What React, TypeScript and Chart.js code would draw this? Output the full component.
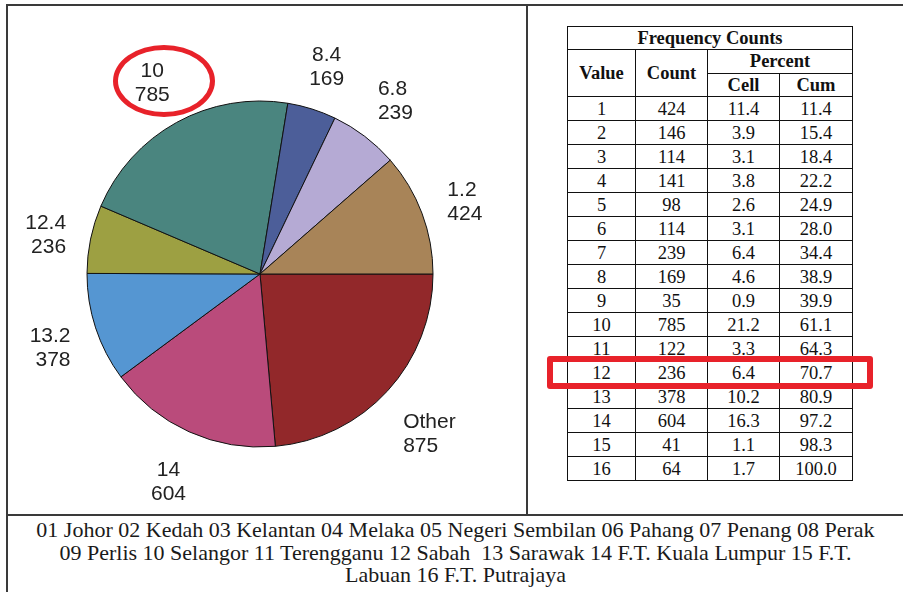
import React, { useEffect, useRef } from "react";
import { Chart, registerables } from "chart.js";

Chart.register(...registerables);

// Pie slices (clockwise from 3 o'clock)
const SLICE_LABELS = ["Other", "14", "13.2", "12.4", "10", "8.4", "6.8", "1.2"];
const SLICE_COUNTS = [875, 604, 378, 236, 785, 169, 239, 424];
const SLICE_COLORS = ["#92282A", "#BA4B7B", "#5596D2", "#9DA042", "#4A857F", "#4C5E99", "#B5AAD4", "#A88458"];

// Frequency table
const TABLE_VALUES = ["1", "2", "3", "4", "5", "6", "7", "8", "9", "10", "11", "12", "13", "14", "15", "16"];
const TABLE_COUNTS = ["424", "146", "114", "141", "98", "114", "239", "169", "35", "785", "122", "236", "378", "604", "41", "64"];
const TABLE_CELL = ["11.4", "3.9", "3.1", "3.8", "2.6", "3.1", "6.4", "4.6", "0.9", "21.2", "3.3", "6.4", "10.2", "16.3", "1.1", "1.7"];
const TABLE_CUM = ["11.4", "15.4", "18.4", "22.2", "24.9", "28.0", "34.4", "38.9", "39.9", "61.1", "64.3", "70.7", "80.9", "97.2", "98.3", "100.0"];
const HIGHLIGHT_ROW = 11;

const CAPTION_LINES = [
  "01 Johor 02 Kedah 03 Kelantan 04 Melaka 05 Negeri Sembilan 06 Pahang 07 Penang 08 Perak",
  "09 Perlis 10 Selangor 11 Terengganu 12 Sabah  13 Sarawak 14 F.T. Kuala Lumpur 15 F.T.",
  "Labuan 16 F.T. Putrajaya",
];

const RED = "#E8222A";
const LINE = "#3a3a3a";

const outsideLabels = {
  id: "outsideLabels",
  afterDatasetsDraw(chart: any) {
    const ctx = chart.ctx;
    const meta = chart.getDatasetMeta(0);
    ctx.save();
    ctx.font = "21px 'Liberation Sans', Arial, sans-serif";
    ctx.fillStyle = "#222";
    ctx.textBaseline = "middle";
    const lh = 24;
    meta.data.forEach((arc: any, i: number) => {
      const p = arc.getProps(["x", "y", "startAngle", "endAngle", "outerRadius"], true);
      const mid = (p.startAngle + p.endAngle) / 2;
      const l1 = String(chart.data.labels[i]);
      const l2 = String(chart.data.datasets[0].data[i]);
      const w = Math.max(ctx.measureText(l1).width, ctx.measureText(l2).width);
      const h = lh * 2;
      const c = Math.cos(mid);
      const s = Math.sin(mid);
      const d = p.outerRadius + 21 + (Math.abs(c) * w) / 2 + (Math.abs(s) * h) / 2;
      const cx = p.x + c * d;
      const cy = p.y + s * d + 5;
      let tx = cx;
      if (Math.abs(c) > 0.5) {
        if (c > 0) {
          ctx.textAlign = "left";
          tx = cx - w / 2;
        } else {
          ctx.textAlign = "right";
          tx = cx + w / 2;
        }
      } else {
        ctx.textAlign = "center";
      }
      ctx.fillText(l1, tx, cy - lh / 2);
      ctx.fillText(l2, tx, cy + lh / 2);
    });
    ctx.restore();
  },
};

function PieChart() {
  const ref = useRef<HTMLCanvasElement | null>(null);
  useEffect(() => {
    if (!ref.current) return;
    const chart = new Chart(ref.current, {
      type: "pie",
      data: {
        labels: SLICE_LABELS,
        datasets: [
          {
            data: SLICE_COUNTS,
            backgroundColor: SLICE_COLORS,
            borderColor: "#111",
            borderWidth: 1,
            radius: 173,
          } as any,
        ],
      },
      options: {
        responsive: false,
        animation: false,
        rotation: 90,
        layout: { padding: { left: 79, right: 94, top: 95, bottom: 67 } },
        plugins: {
          legend: { display: false },
          tooltip: { enabled: false },
        },
      },
      plugins: [outsideLabels],
    });
    return () => chart.destroy();
  }, []);
  return (
    <canvas
      ref={ref}
      width={519}
      height={508}
      style={{ position: "absolute", left: 8, top: 6, width: 519, height: 508 }}
    />
  );
}

const cellStyle: React.CSSProperties = {
  border: "1px solid #111",
  padding: 0,
  textAlign: "center",
  verticalAlign: "middle",
  lineHeight: "1",
};

function FreqTable() {
  const hdr = { ...cellStyle, fontWeight: 700 };
  return (
    <table
      style={{
        position: "absolute",
        left: 567,
        top: 26,
        borderCollapse: "collapse",
        tableLayout: "fixed",
        fontFamily: "'Liberation Serif', 'Times New Roman', serif",
        fontSize: 18.5,
        color: "#111",
      }}
    >
      <colgroup>
        <col style={{ width: 68 }} />
        <col style={{ width: 72 }} />
        <col style={{ width: 72 }} />
        <col style={{ width: 73 }} />
      </colgroup>
      <tbody>
        <tr style={{ height: 23.4 }}>
          <td colSpan={4} style={hdr}>Frequency Counts</td>
        </tr>
        <tr style={{ height: 23.4 }}>
          <td rowSpan={2} style={hdr}>Value</td>
          <td rowSpan={2} style={hdr}>Count</td>
          <td colSpan={2} style={hdr}>Percent</td>
        </tr>
        <tr style={{ height: 23.6 }}>
          <td style={hdr}>Cell</td>
          <td style={hdr}>Cum</td>
        </tr>
        {TABLE_VALUES.map((v, i) => (
          <tr key={v} style={{ height: 24 }}>
            <td style={cellStyle}>{v}</td>
            <td style={cellStyle}>{TABLE_COUNTS[i]}</td>
            <td style={cellStyle}>{TABLE_CELL[i]}</td>
            <td style={cellStyle}>{TABLE_CUM[i]}</td>
          </tr>
        ))}
      </tbody>
    </table>
  );
}

export default function App() {
  const rowTop = 26 + 23.4 + 23.4 + 23.6 + HIGHLIGHT_ROW * 24;
  return (
    <div
      style={{
        position: "absolute",
        left: 0,
        top: 0,
        width: 903,
        height: 592,
        background: "#fff",
        overflow: "hidden",
      }}
    >
      {/* frame */}
      <div style={{ position: "absolute", left: 6, top: 4, width: 897, height: 2, background: LINE }} />
      <div style={{ position: "absolute", left: 6, top: 4, width: 2, height: 588, background: LINE }} />
      <div style={{ position: "absolute", left: 526, top: 4, width: 2, height: 511, background: LINE }} />
      <div style={{ position: "absolute", left: 6, top: 514, width: 897, height: 2, background: LINE }} />

      <PieChart />

      {/* red ellipse annotation */}
      <div
        style={{
          position: "absolute",
          left: 113,
          top: 45,
          width: 102,
          height: 72,
          boxSizing: "border-box",
          border: `5.5px solid ${RED}`,
          borderRadius: "50%",
        }}
      />

      <FreqTable />

      {/* red rectangle annotation */}
      <div
        style={{
          position: "absolute",
          left: 547,
          top: rowTop - 4.5,
          width: 326,
          height: 33,
          boxSizing: "border-box",
          border: `6px solid ${RED}`,
          borderRadius: 3,
        }}
      />

      <div
        style={{
          position: "absolute",
          left: 8,
          top: 519,
          width: 895,
          textAlign: "center",
          fontFamily: "'Liberation Serif', 'Times New Roman', serif",
          fontSize: 22,
          lineHeight: "22.5px",
          color: "#1a1a1a",
          whiteSpace: "pre",
        }}
      >
        {CAPTION_LINES.map((l, i) => (
          <div key={i}>{l}</div>
        ))}
      </div>
    </div>
  );
}
